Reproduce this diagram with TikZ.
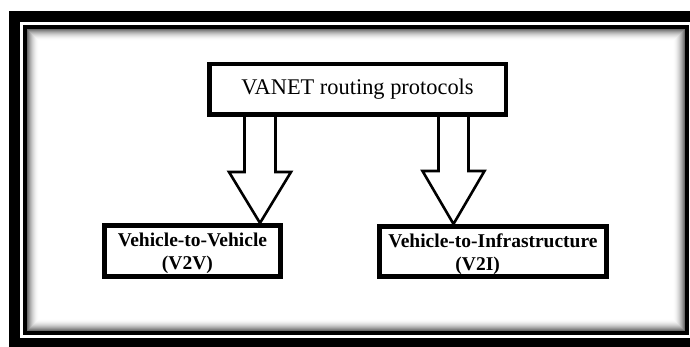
\documentclass[tikz,border=0pt]{standalone}
\usepackage{fontspec}
\setmainfont{Liberation Serif}
\usetikzlibrary{calc}
\pgfdeclarelayer{back}
\pgfdeclarelayer{bg}
\pgfsetlayers{back,bg,main}
\begin{document}
\begin{tikzpicture}[x=1pt,y=-1pt,
  box/.style={draw=black, fill=white, line width=5pt, inner sep=0pt, line join=miter},
  lowtext/.style={align=left, font=\bfseries\fontsize{19.5}{23}\selectfont},
  barrow/.style={draw=black, fill=white, line width=2.6pt, line join=miter}]
\useasboundingbox (0,0) rectangle (690,347);
\clip (0,0) rectangle (690,347);
\begin{pgfonlayer}{back}
\fill[white] (0,0) rectangle (690,347);
% outer thick frame
\draw[line width=11pt] (14.5,16.5) rectangle (697.5,343.5);
% inner frame
\draw[line width=4pt] (25,27) rectangle (687,333);
% inner shadow
\foreach \i in {0,...,11} {
  \pgfmathsetmacro\g{58*(1-\i/12)*(1-\i/12)}
  \draw[black!\g, line width=1.1pt] (27.5+\i,29.5+\i) rectangle (684.5-\i,330.5-\i);
}
\end{pgfonlayer}

\node[box, line width=4.5pt, minimum width=296.5pt, minimum height=50.5pt,
      font=\fontsize{22.4}{26}\selectfont, text height=15.5pt, text depth=6pt]
      (top) at (357.5,89.5) {VANET routing protocols};
\node[box, minimum width=176pt, minimum height=51pt, lowtext]
      (v2v) at (192.5,251) {\rule{0pt}{19pt}Vehicle-to-Vehicle\\\hspace*{44pt}(V2V)};
\node[box, minimum width=227pt, minimum height=50pt, lowtext]
      (v2i) at (493,251.5) {\rule{0pt}{19pt}Vehicle-to-Infrastructure\\\hspace*{67pt}(V2I)};

\coordinate (lh) at (260,172);
\coordinate (rh) at (453.5,171);
\begin{pgfonlayer}{bg}
\draw[barrow] ($(top.center -| lh)+(-15.5,0)$) -- ($(lh)+(-15.5,0)$) -- ($(lh)+(-31,0)$)
   -- (lh |- v2v.north) -- ($(lh)+(31,0)$) -- ($(lh)+(15.5,0)$)
   -- ($(top.center -| lh)+(15.5,0)$) -- cycle;
\draw[barrow] ($(top.center -| rh)+(-15,0)$) -- ($(rh)+(-15,0)$) -- ($(rh)+(-31,0)$)
   -- (rh |- v2i.north) -- ($(rh)+(31,0)$) -- ($(rh)+(15,0)$)
   -- ($(top.center -| rh)+(15,0)$) -- cycle;
\end{pgfonlayer}
\end{tikzpicture}
\end{document}
